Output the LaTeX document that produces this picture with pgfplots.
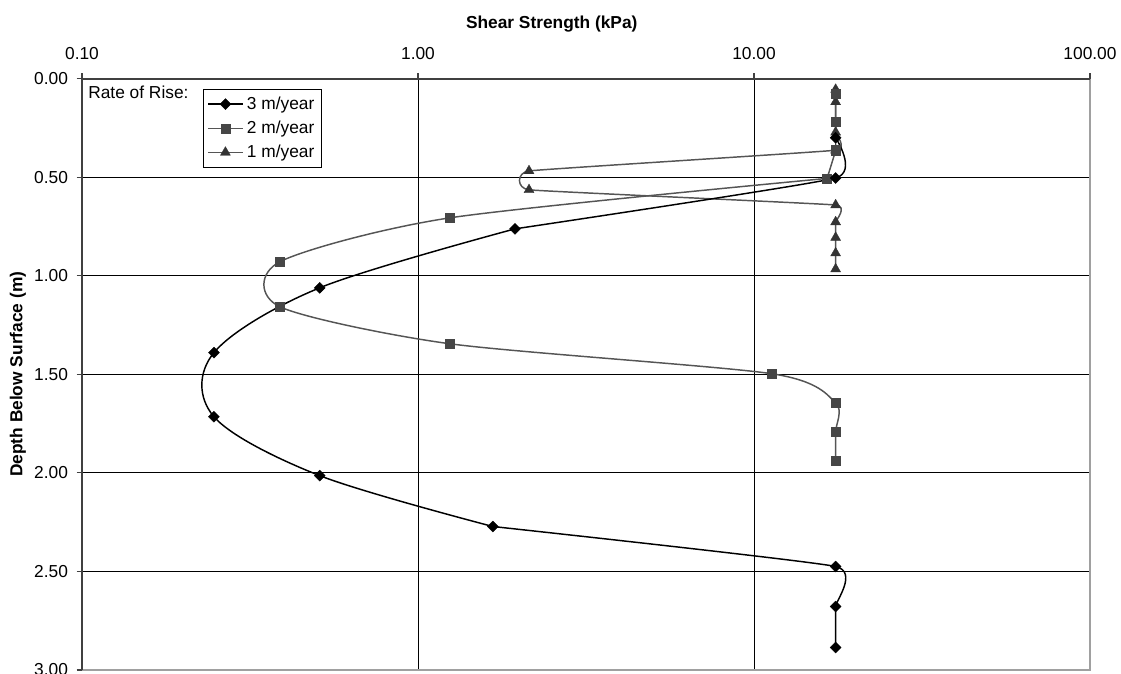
\documentclass[border=0pt]{standalone}
\usepackage{fontspec}
\setmainfont{Liberation Sans}
\usepackage{pgfplots}
\pgfplotsset{compat=1.18}
\definecolor{axdark}{HTML}{404040}
\definecolor{axlight}{HTML}{A0A0A0}
\definecolor{sqcol}{HTML}{464646}
\definecolor{trcol}{HTML}{333333}
\definecolor{lgray}{HTML}{555555}
\pgfplotsset{
 s3/.style={color=black, line width=1.1pt},
 m3/.style={mark=square*, mark size=2.9pt, mark options={rotate=45, fill=black, draw=black, line width=0.3pt, solid}},
 l2/.style={color=lgray, line width=1.1pt},
 s2/.style={color=lgray, line width=1.1pt, mark=square*, mark size=3.4pt, mark options={fill=sqcol, draw=sqcol, line width=0.3pt}},
 m2/.style={mark=square*, mark size=3.4pt, mark options={fill=sqcol, draw=sqcol, line width=0.3pt}},
 s1/.style={color=lgray, line width=1.1pt, mark=triangle*, mark size=4.3pt, mark options={fill=trcol, draw=trcol, line width=0.3pt}},
}
\begin{document}
\begin{tikzpicture}
\begin{axis}[
 scale only axis, width=756pt, height=443.5pt,
 xmode=log, xmin=0.1, xmax=100, ymin=0, ymax=3, y dir=reverse,
 xtick={0.1,1,10,100}, xticklabels={0.10,1.00,10.00,100.00},
 xminorticks=false,
 ytick={0,0.5,1,1.5,2,2.5,3},
 yticklabel style={xshift=-3pt, /pgf/number format/.cd, fixed, fixed zerofill, precision=2},
 /pgf/number format/assume math mode=true,
 xtick pos=right, xticklabel pos=right, ytick pos=left,
 tick align=outside, major tick length=4pt,
 tick style={axdark, line width=0.8pt},
 axis line style={draw=none},
 grid=major, major grid style={black, line width=0.6pt},
 tick label style={font=\fontsize{13}{15.6}\selectfont},
 xticklabel style={yshift=6.5pt},
 xlabel={Shear Strength (kPa)},
 xlabel style={at={(axis description cs:0.466,1.0925)}, anchor=center, font=\bfseries\fontsize{13}{15.6}\selectfont},
 ylabel={Depth Below Surface (m)},
 ylabel style={at={(axis description cs:-0.0635,0.5)}, anchor=center, font=\bfseries\fontsize{13}{15.6}\selectfont},
 legend style={at={(axis description cs:0.12,0.9826)}, anchor=north west, draw=black, line width=0.6pt, font=\fontsize{13}{15.6}\selectfont, nodes={inner xsep=2.6pt, inner ysep=3.6pt}},
 legend cell align=left,
 legend image code/.code={\draw[mark repeat=2,mark phase=2,#1] plot coordinates {(0pt,0pt) (13pt,0pt) (26pt,0pt)};},
]
\addlegendimage{s3, m3}
\addlegendentry{3 m/year}
\addlegendimage{s2}
\addlegendentry{2 m/year}
\addlegendimage{s1}
\addlegendentry{1 m/year}
% 1 m/year
\addplot[s1, smooth, tension=0.15, forget plot] coordinates {
 (17.5,0.055) (17.5,0.118) (17.5,0.272) (17.5,0.363) (2.14,0.468) (2.14,0.564)
 (17.5,0.641) (17.5,0.727) (17.5,0.806) (17.5,0.885) (17.5,0.966)};
% 2 m/year: line in pieces, then the markers
\addplot[l2, smooth, tension=0.1, forget plot] coordinates {
 (17.5,0.075) (17.5,0.22) (17.5,0.363) (16.5,0.506)};
\addplot[l2, smooth, tension=0.45, forget plot] coordinates {
 (16.5,0.506) (1.245,0.706) (0.388,0.929)
 (0.388,1.157) (1.245,1.345) (11.3,1.497) (17.5,1.645) (17.5,1.792) (17.5,1.939)};
\addplot[m2, only marks, forget plot] coordinates {
 (17.5,0.075) (17.5,0.22) (17.5,0.363) (16.5,0.506) (1.245,0.706) (0.388,0.929)
 (0.388,1.157) (1.245,1.345) (11.3,1.497) (17.5,1.645) (17.5,1.792) (17.5,1.939)};
% 3 m/year: line in pieces, then the markers
\addplot[s3, smooth, tension=0.25, forget plot] coordinates {
 (17.5,0.30) (17.5,0.504) (1.944,0.762)};
\addplot[s3, smooth, tension=0.55, forget plot] coordinates {
 (1.944,0.762) (0.51,1.061) (0.247,1.390) (0.247,1.715) (0.51,2.014) (1.67,2.272)};
\addplot[s3, smooth, tension=0.24, forget plot] coordinates {
 (1.67,2.272) (17.5,2.475) (17.5,2.678) (17.5,2.886)};
\addplot[m3, only marks, forget plot] coordinates {
 (17.5,0.30) (17.5,0.504) (1.944,0.762) (0.51,1.061) (0.247,1.390) (0.247,1.715)
 (0.51,2.014) (1.67,2.272) (17.5,2.475) (17.5,2.678) (17.5,2.886)};
\node[anchor=west, font=\fontsize{13}{15.6}\selectfont, inner sep=0pt] at (axis description cs:0.006,0.9763) {Rate of Rise:};
\end{axis}
\draw[axlight, line width=1.5pt] (current axis.north east) -- (current axis.south east) -- (current axis.south west);
\draw[axdark, line width=1.5pt] (current axis.south west) -- (current axis.north west) -- (current axis.north east);
\pgfresetboundingbox
\path[use as bounding box] ([xshift=-61.5pt,yshift=-3pt]current axis.south west) rectangle ([xshift=23.25pt,yshift=59pt]current axis.north east);
\end{tikzpicture}
\end{document}
